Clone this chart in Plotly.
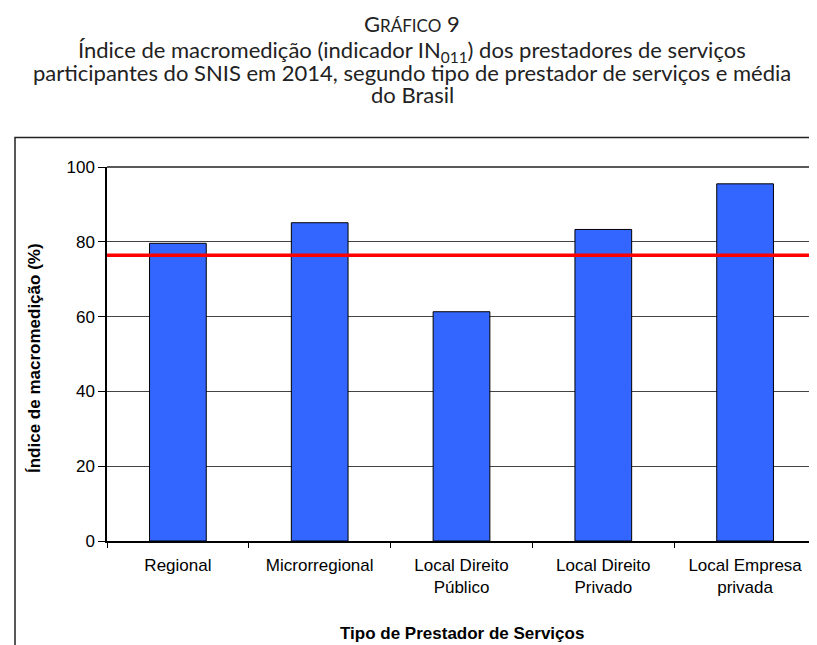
"""
Gráfico 9 - índice de macromedição (IN011) por tipo de prestador, SNIS 2014.
"""
import plotly.graph_objects as go

# dados
categorias = ["Regional", "Microrregional", "Local Direito<br>Público",
              "Local Direito<br>Privado", "Local Empresa<br>privada"]
indice_macromedicao = [79.6, 85.1, 61.3, 83.3, 95.5]
media_brasil = 76.4
y_ticks = [0, 20, 40, 60, 80, 100]

titulo_linhas = [
    "G<span style='font-size:17px'>RÁFICO</span> 9",
    "Índice de macromedição (indicador IN<sub>011</sub>) dos prestadores de serviços",
    "participantes do SNIS em 2014, segundo tipo de prestador de serviços e média",
    "do Brasil",
]

# the page body adds an 8px margin, so the figure is drawn 8px in
OFF = 8
W, H = 817 - OFF, 645 - OFF
L, R, T, B = 107 - OFF, 1, 167 - OFF, 104
plot_h = H - T - B
plot_w = W - L - R


def fy(page_y):
    """page pixel y (from top) -> paper y"""
    return (H - B - (page_y - OFF)) / plot_h


def fx(page_x):
    """page pixel x -> paper x"""
    return (page_x - OFF - L) / plot_w


fig = go.Figure()
fig.add_trace(go.Bar(
    x=categorias,
    y=indice_macromedicao,
    marker=dict(color="#3366FF", line=dict(color="black", width=1)),
    hoverinfo="x+y",
))

# linha da média Brasil
fig.add_shape(type="line", xref="paper", yref="y", x0=0, x1=1,
              y0=media_brasil, y1=media_brasil,
              line=dict(color="#FF0000", width=3.5), layer="above")

# moldura externa do gráfico
fig.add_shape(type="rect", xref="paper", yref="paper",
              x0=fx(15), x1=fx(830), y0=fy(137.5), y1=fy(660),
              line=dict(color="#222222", width=1.5), layer="below")

title_font = "Lato, 'Century Gothic', 'DejaVu Sans', sans-serif"
title_y = [23, 51, 72, 94]
for txt, yy in zip(titulo_linhas, title_y):
    fig.add_annotation(text=txt, xref="paper", yref="paper",
                       x=fx(412), y=fy(yy), showarrow=False,
                       xanchor="center", yanchor="middle",
                       font=dict(family=title_font, size=22, color="#222222"))

fig.add_annotation(text="<b>Índice de macromedição (%)</b>", xref="paper", yref="paper",
                   x=fx(34), y=fy(358), showarrow=False, textangle=-90,
                   xanchor="center", yanchor="middle",
                   font=dict(family="Liberation Sans, Arial", size=17, color="black"))
fig.add_annotation(text="<b>Tipo de Prestador de Serviços</b>", xref="paper", yref="paper",
                   x=0.5, y=fy(633), showarrow=False,
                   xanchor="center", yanchor="middle",
                   font=dict(family="Liberation Sans, Arial", size=17, color="black"))

fig.update_layout(
    width=W, height=H,
    margin=dict(l=L, r=R, t=T, b=B),
    paper_bgcolor="white", plot_bgcolor="white",
    bargap=0.6,
    showlegend=False,
    font=dict(family="Liberation Sans, Arial", size=17, color="black"),
)
fig.update_xaxes(
    tickson="boundaries", ticks="outside", ticklen=5, tickcolor="black",
    showline=True, linecolor="black", linewidth=1.5,
    mirror=False, showgrid=False, ticklabelstandoff=8,
    tickfont=dict(size=17),
)
fig.update_yaxes(
    range=[0, 100], tickvals=y_ticks, ticks="outside", ticklen=7,
    tickcolor="black", showline=True, linecolor="black", linewidth=1.5,
    showgrid=True, gridcolor="#444444", gridwidth=1,
    tickfont=dict(size=17), zeroline=False,
)
# bordas superior e direita da área de plotagem
fig.add_shape(type="line", xref="paper", yref="paper", x0=0, x1=1, y0=1, y1=1,
              line=dict(color="#222222", width=1.5))
fig.add_shape(type="line", xref="paper", yref="paper", x0=1, x1=1, y0=0, y1=1,
              line=dict(color="#666666", width=1))

fig.write_html("out.html")
